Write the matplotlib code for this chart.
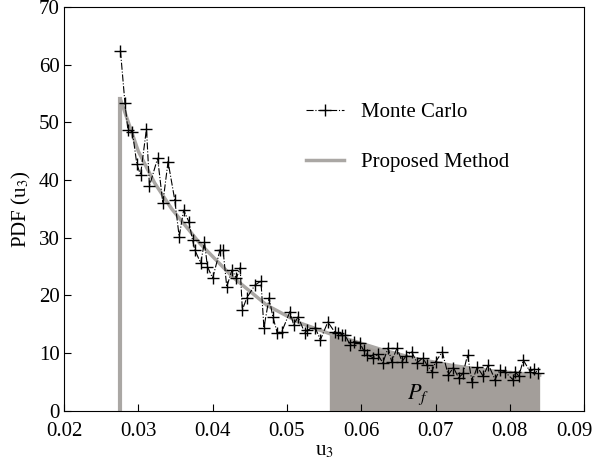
import numpy as np
import matplotlib
matplotlib.use("Agg")
import matplotlib.pyplot as plt
from matplotlib.transforms import ScaledTranslation

plt.rcParams['font.family'] = ['Liberation Serif', 'DejaVu Serif']
plt.rcParams['mathtext.fontset'] = 'stix'

# Monte Carlo samples
mc_x = [0.0276, 0.0282, 0.0286, 0.0292, 0.0298, 0.0303, 0.0311, 0.0315, 0.0326, 0.0333,
        0.0340, 0.0349, 0.0355, 0.0361, 0.0368, 0.0373, 0.0376, 0.0384, 0.0389, 0.0393,
        0.0400, 0.0410, 0.0414, 0.0419, 0.0426, 0.0432, 0.0437, 0.0440, 0.0446, 0.0457,
        0.0465, 0.0469, 0.0476, 0.0481, 0.0487, 0.0493, 0.0504, 0.0509, 0.0515, 0.0524,
        0.0527, 0.0538, 0.0545, 0.0555, 0.0564, 0.0569, 0.0574, 0.0578, 0.0585, 0.0590,
        0.0598, 0.0603, 0.0608, 0.0616, 0.0622, 0.0629, 0.0636, 0.0641, 0.0648, 0.0655,
        0.0660, 0.0668, 0.0675, 0.0683, 0.0688, 0.0695, 0.0700, 0.0709, 0.0717, 0.0724,
        0.0731, 0.0737, 0.0743, 0.0749, 0.0756, 0.0764, 0.0771, 0.0780, 0.0786, 0.0793,
        0.0804, 0.0807, 0.0812, 0.0818, 0.0827, 0.0832, 0.0838]
mc_y = [62.4, 53.4, 48.7, 48.4, 42.8, 40.9, 48.9, 39.0, 43.8, 36.0,
        43.2, 36.6, 30.2, 34.8, 32.8, 29.6, 27.9, 25.6, 29.3, 25.0,
        23.0, 27.9, 27.9, 21.5, 24.4, 23.0, 24.8, 17.5, 19.6, 21.8,
        22.5, 14.4, 19.6, 16.3, 13.5, 13.7, 17.2, 14.9, 16.3, 13.5,
        14.0, 14.4, 12.3, 15.4, 13.7, 13.5, 13.2, 13.2, 11.4, 12.0,
        11.8, 10.5, 9.7, 9.2, 9.8, 8.3, 10.9, 8.5, 10.9, 8.5,
        9.5, 10.2, 8.3, 9.2, 8.0, 6.8, 8.5, 10.2, 6.2, 7.5,
        5.7, 6.5, 9.7, 5.0, 7.6, 6.0, 8.0, 5.4, 7.0, 6.8,
        5.4, 6.8, 6.0, 8.8, 6.8, 7.2, 6.6]

# Proposed method curve
pm_x = [0.0276, 0.0300, 0.0322, 0.0345, 0.0383, 0.0427, 0.0473, 0.0518, 0.0557,
        0.0585, 0.0630, 0.0675, 0.0725, 0.0777, 0.0840]
pm_y = [54.0, 45.0, 39.5, 35.0, 29.0, 23.2, 18.3, 15.2, 13.4,
        12.3, 10.5, 9.0, 7.8, 6.9, 6.2]

x_start = 0.0276   # lower bound of support
x_fail = 0.0557    # failure threshold

fig = plt.figure(figsize=(5.98, 4.76), dpi=100)
ax = fig.add_axes([0.107, 0.137, 0.870, 0.848])

pm_x_arr = np.array(pm_x)
pm_y_arr = np.array(pm_y)
mask = pm_x_arr >= x_fail
ax.fill_between(pm_x_arr[mask], 0, pm_y_arr[mask], color='#a39e9a', lw=0, zorder=1)

ax.plot([x_start, x_start], [0, pm_y[0]], color='#aaa7a4', lw=3, zorder=2)
ax.plot(pm_x, pm_y, color='#aaa7a4', lw=2.5, zorder=2, label='Proposed Method')
ax.plot(mc_x, mc_y, color='black', ls='-.', lw=0.8, marker='+', ms=9, mew=1.0,
        zorder=3, label='Monte Carlo')

ax.text(0.0662, 2.0, r'$P_f$', fontsize=16)

ax.set_xlim(0.02, 0.09)
ax.set_ylim(0, 70)
ax.set_xticks(np.arange(0.02, 0.0901, 0.01))
ax.set_xticklabels(['0.02', '0.03', '0.04', '0.05', '0.06', '0.07', '0.08', '0.09'])
ax.set_yticks(range(0, 71, 10))
ax.tick_params(direction='in', labelsize=15, length=5, width=0.8)
ax.tick_params(axis='x', pad=8)
ax.tick_params(axis='y', pad=3)
# last x label sits a bit left so it stays inside the figure
last = ax.get_xticklabels()[-1]
last.set_transform(last.get_transform() + ScaledTranslation(-7 / 72, 0, fig.dpi_scale_trans))
ax.set_xlabel(r'u$_3$', fontsize=15, labelpad=0)
ax.set_ylabel(r'PDF (u$_3$)', fontsize=15, labelpad=4)

h, l = ax.get_legend_handles_labels()
ax.legend(h[::-1], l[::-1], loc='upper left', bbox_to_anchor=(0.43, 0.81), frameon=False,
          fontsize=15, labelspacing=1.45, handlelength=1.8)

fig.savefig('out.png', dpi=100)
